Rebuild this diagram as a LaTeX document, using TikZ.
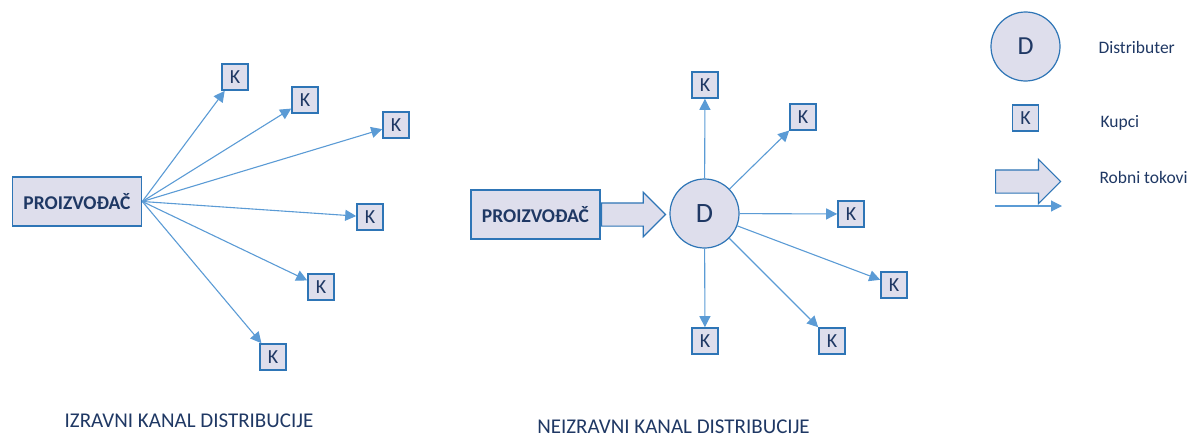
\documentclass[tikz,border=0pt]{standalone}
\usepackage{fontspec}
\setmainfont{Carlito}
\usetikzlibrary{arrows.meta,shapes.arrows,positioning,calc}
\definecolor{kborder}{HTML}{2E75B6}
\definecolor{kline}{HTML}{5B9BD5}
\definecolor{kfill}{HTML}{DEDEEC}
\definecolor{ktext}{HTML}{1F3864}
\tikzset{
	channel diagram/.style={x=1pt,y=-1pt,every node/.style={text=ktext}},
	prod/.style={draw=kborder,fill=kfill,line width=1.6pt,
		minimum width=129pt,minimum height=49pt,inner sep=0pt,
		font=\fontsize{19.5}{22}\selectfont\bfseries},
	kup/.style={draw=kborder,fill=kfill,line width=1.6pt,
		minimum size=26pt,inner sep=0pt,font=\fontsize{20}{22}\selectfont},
	dist/.style={circle,draw=kborder,fill=kfill,line width=1.2pt,
		minimum size=69pt,inner sep=0pt,font=\fontsize{28}{30}\selectfont},
	flow/.style={single arrow,draw=kborder,fill=kfill,line width=1.2pt,
		inner xsep=0pt,inner ysep=11pt,single arrow head extend=10.5pt,
		anchor=tail},
	ar/.style={draw=kline,line width=1.1pt,-{Triangle[length=11pt,width=11pt]}},
	chancap/.style={font=\fontsize{21}{23}\selectfont},
	legtext/.style={anchor=base west,font=\fontsize{17.5}{20}\selectfont}
}

\begin{document}
\begin{tikzpicture}[channel diagram]
	\useasboundingbox (0,0) rectangle (1192,439);
	% izravni kanal
	\node[prod] (p1) at (77,201.5) {PROIZVOĐAČ};
	\foreach \n/\p in {a/{(235,77)},b/{(305,100)},c/{(396,125)},
			d/{(370,217)},e/{(321,287)},f/{(273,357)}}
		\node[kup] (l\n) at \p {K};
	\foreach \n in {a,...,f}
		\draw[ar] (p1.east) -- (l\n);
	\node[chancap] (c1) at (189,421) {IZRAVNI KANAL DISTRIBUCIJE};
	% neizravni kanal
	\node[prod] (p2) at (535.5,214.5) {PROIZVOĐAČ};
	\node[flow,minimum height=64pt] (f2) at (p2.east) {};
	\node[dist] (d) at (704.5,213.5) {D};
	\foreach \n/\p in {a/{(705,85)},b/{(803,117)},c/{(851,214)},
			d/{(894,285)},e/{(832,341)},f/{(705,341)}}
		\node[kup] (r\n) at \p {K};
	\foreach \n in {a,...,f}
		\draw[ar] (d) -- (r\n);
	\node[chancap] (c2) at (673.5,427) {NEIZRAVNI KANAL DISTRIBUCIJE};
	% legenda
	\node[dist,font=\fontsize{26}{28}\selectfont] (ld) at (1025.5,46.5) {D};
	\node[legtext] (ldt) at (1095,53) {Distributer};
	\node[kup] (lk) at (1025.5,118) {K};
	\node[legtext] (lkt) at (1097,127) {Kupci};
	\node[flow,minimum height=65pt] (lf) at (995,181.5) {};
	\coordinate (la) at (995,206);
	\coordinate (lb) at (1062,206);
	\draw[ar] (la) -- (lb);
	\node[legtext] (lft) at (1096,183) {Robni tokovi};
\end{tikzpicture}
\end{document}
